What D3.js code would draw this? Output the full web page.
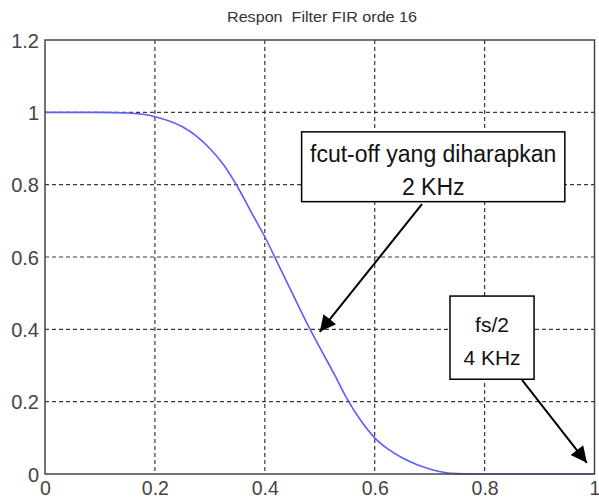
<!DOCTYPE html>
<html><head><meta charset="utf-8">
<script src="https://d3js.org/d3.v7.min.js"></script>
<style>html,body{margin:0;padding:0;background:#fff;}svg{display:block;}</style>
</head><body>
<svg id="chart" width="599" height="499"></svg>
<script>
const title = "Respon  Filter FIR orde 16";
const xTicks = [0, 0.2, 0.4, 0.6, 0.8, 1];
const yTicks = [0, 0.2, 0.4, 0.6, 0.8, 1, 1.2];
const freq = [0, 0.05, 0.1, 0.15, 0.2, 0.25, 0.275, 0.3, 0.325, 0.35, 0.375, 0.4, 0.425, 0.45, 0.475, 0.5, 0.525, 0.55, 0.575, 0.6, 0.625, 0.65, 0.675, 0.7, 0.725, 0.75, 0.775, 0.8, 0.85, 0.9, 0.95, 1.0];
const magnitude = [1, 1, 1, 0.998, 0.988, 0.96, 0.935, 0.9, 0.855, 0.795, 0.725, 0.656, 0.578, 0.5, 0.422, 0.35, 0.28, 0.207, 0.147, 0.1, 0.068, 0.045, 0.027, 0.014, 0.005, 0.001, 0, 0, 0, 0, 0, 0];
const note1Lines = ["fcut-off yang diharapkan", "2 KHz"];
const note2Lines = ["fs/2", "4 KHz"];

const svg = d3.select("#chart");
const x = d3.scaleLinear().domain([0, 1]).range([45, 594.5]);
const y = d3.scaleLinear().domain([0, 1.2]).range([474, 40]);
const font = "'Liberation Sans', Arial, sans-serif";

// grid
const grid = svg.append("g").attr("stroke", "#3a3a3a").attr("stroke-width", 1.2).attr("stroke-dasharray", "4,3");
grid.selectAll("line.gx").data(xTicks.filter(d => d > 0 && d < 1)).join("line")
  .attr("x1", d => x(d)).attr("x2", d => x(d)).attr("y1", y(1.2)).attr("y2", y(0));
grid.selectAll("line.gy").data(yTicks.filter(d => d > 0 && d < 1.2)).join("line")
  .attr("x1", x(0)).attr("x2", x(1)).attr("y1", d => y(d)).attr("y2", d => y(d));

// curve
const pts = freq.map((f, i) => [f, magnitude[i]]);
svg.append("path").datum(pts)
  .attr("fill", "none").attr("stroke", "#5c5cff").attr("stroke-width", 1.6)
  .attr("d", d3.line().x(d => x(d[0])).y(d => y(d[1])).curve(d3.curveMonotoneX));

// frame
svg.append("rect").attr("x", x(0)).attr("y", y(1.2)).attr("width", x(1) - x(0)).attr("height", y(0) - y(1.2))
  .attr("fill", "none").attr("stroke", "#444").attr("stroke-width", 1.5);

// axes
const xAxis = svg.append("g").attr("transform", `translate(0,${y(0)})`)
  .call(d3.axisBottom(x).tickValues(xTicks).tickSize(0).tickPadding(0).tickFormat(d3.format("~g")));
xAxis.select(".domain").remove();
xAxis.selectAll("text").attr("dy", null).attr("y", 21).attr("font-size", 19.5).attr("font-family", font).attr("fill", "#444");
const yAxis = svg.append("g").attr("transform", `translate(${x(0)},0)`)
  .call(d3.axisLeft(y).tickValues(yTicks).tickSize(0).tickPadding(6).tickFormat(d3.format("~g")));
yAxis.select(".domain").remove();
yAxis.selectAll("text").attr("dy", "0.36em").attr("font-size", 20).attr("font-family", font).attr("fill", "#444");

// title
svg.append("text").attr("x", 322).attr("y", 22).attr("text-anchor", "middle")
  .attr("font-family", font).attr("font-size", 15).attr("fill", "#333")
  .attr("textLength", 190).attr("lengthAdjust", "spacingAndGlyphs").style("white-space", "pre").text(title);

// arrow marker
const defs = svg.append("defs");
defs.append("marker").attr("id", "arr").attr("viewBox", "0 0 10 10").attr("refX", 10).attr("refY", 5)
  .attr("markerWidth", 9).attr("markerHeight", 8).attr("markerUnits", "strokeWidth").attr("orient", "auto")
  .append("path").attr("d", "M0,0 L10,5 L0,10 z").attr("fill", "#000");

function note(lines, bx0, by0, bx1, by1, ax0, ay0, ax1, ay1, baselines, fs) {
  svg.append("line").attr("x1", x(ax0)).attr("y1", y(ay0)).attr("x2", x(ax1)).attr("y2", y(ay1))
    .attr("stroke", "#000").attr("stroke-width", 2).attr("marker-end", "url(#arr)");
  svg.append("rect").attr("x", x(bx0)).attr("y", y(by0)).attr("width", x(bx1) - x(bx0)).attr("height", y(by1) - y(by0))
    .attr("fill", "#fff").attr("stroke", "#000").attr("stroke-width", 1.5);
  const cx = (x(bx0) + x(bx1)) / 2;
  lines.forEach((t, i) => {
    svg.append("text").attr("x", cx).attr("y", y(by0) + baselines[i]).attr("text-anchor", "middle")
      .attr("font-family", font).attr("font-size", fs).attr("fill", "#111").text(t);
  });
}
note(note1Lines, 0.467, 0.946, 0.946, 0.753, 0.686, 0.746, 0.5, 0.393, [30, 63], 23);
note(note2Lines, 0.737, 0.492, 0.890, 0.262, 0.868, 0.26, 0.986, 0.031, [36, 69], 21);
</script>
</body></html>
